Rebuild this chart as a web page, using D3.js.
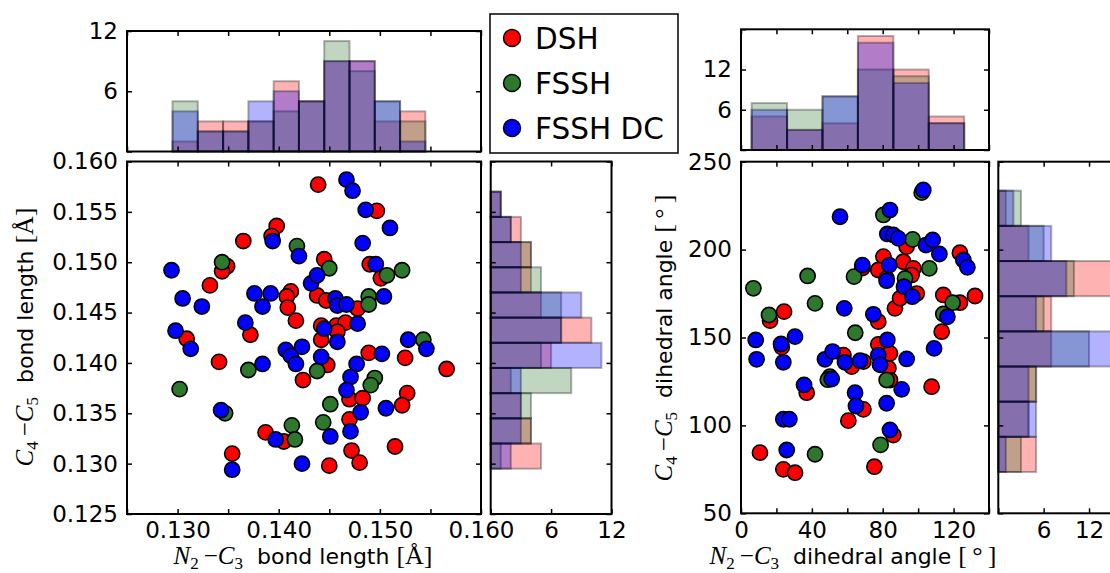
<!DOCTYPE html>
<html lang="en">
<head>
  <meta charset="UTF-8">
  <title>bond length / dihedral angle</title>
  <style>
    body { margin: 0; background: #fff; }
    text { font-family: "DejaVu Sans", sans-serif; }
  </style>
</head>
<body>
  <div id="chart"></div>
  <script src="https://d3js.org/d3.v7.min.js"></script>
  <script>
    // series
    const seriesNames = ["DSH", "FSSH", "FSSH DC"]

    // left panel: [N2-C3, C4-C5] bond length (nm)
    const bondDSH = [
      [0.1439, 0.1577], [0.1398, 0.1536], [0.1393, 0.1526], [0.1365, 0.1521], [0.1445, 0.1503],
      [0.1349, 0.1496], [0.1344, 0.1491], [0.1332, 0.1477], [0.1412, 0.1471], [0.1408, 0.1466],
      [0.1409, 0.1455], [0.1417, 0.1442], [0.1438, 0.1467], [0.1447, 0.1462], [0.1372, 0.1428],
      [0.1309, 0.1424], [0.1341, 0.1401], [0.1424, 0.1383], [0.1442, 0.1423], [0.1442, 0.1437],
      [0.1448, 0.1398], [0.1387, 0.1331], [0.1405, 0.1322], [0.1354, 0.1310], [0.1450, 0.1298],
      [0.1497, 0.1551], [0.1490, 0.1498], [0.1501, 0.1484], [0.1478, 0.1454], [0.1457, 0.1437],
      [0.1466, 0.1440], [0.1458, 0.1431], [0.1489, 0.1410], [0.1470, 0.1364], [0.1483, 0.1365],
      [0.1525, 0.1405], [0.1566, 0.1394], [0.1527, 0.1370], [0.1522, 0.1358], [0.1470, 0.1344],
      [0.1515, 0.1317], [0.1472, 0.1313], [0.1480, 0.1301]
    ]
    const bondFSSH = [
      [0.1418, 0.1516], [0.1450, 0.1494], [0.1344, 0.1500], [0.1370, 0.1393], [0.1302, 0.1374],
      [0.1438, 0.1392], [0.1347, 0.1350], [0.1413, 0.1338], [0.1416, 0.1324], [0.1507, 0.1487],
      [0.1522, 0.1492], [0.1489, 0.1466], [0.1489, 0.1458], [0.1495, 0.1385], [0.1491, 0.1378],
      [0.1543, 0.1423], [0.1451, 0.1359], [0.1444, 0.1341]
    ]
    const bondDC = [
      [0.1394, 0.1521], [0.1420, 0.1506], [0.1294, 0.1492], [0.1305, 0.1464], [0.1324, 0.1456],
      [0.1376, 0.1469], [0.1392, 0.1469], [0.1384, 0.1456], [0.1432, 0.1479], [0.1438, 0.1487],
      [0.1367, 0.1440], [0.1298, 0.1432], [0.1313, 0.1414], [0.1384, 0.1399], [0.1407, 0.1413],
      [0.1412, 0.1407], [0.1417, 0.1399], [0.1423, 0.1416], [0.1442, 0.1406], [0.1445, 0.1434],
      [0.1343, 0.1353], [0.1397, 0.1324], [0.1354, 0.1294], [0.1423, 0.1300], [0.1467, 0.1582],
      [0.1473, 0.1571], [0.1486, 0.1552], [0.1510, 0.1534], [0.1483, 0.1519], [0.1496, 0.1498],
      [0.1456, 0.1464], [0.1458, 0.1457], [0.1467, 0.1458], [0.1504, 0.1466], [0.1478, 0.1439],
      [0.1458, 0.1421], [0.1502, 0.1409], [0.1477, 0.1399], [0.1471, 0.1386], [0.1467, 0.1373],
      [0.1528, 0.1423], [0.1546, 0.1414], [0.1506, 0.1355], [0.1481, 0.1351], [0.1451, 0.1327],
      [0.1471, 0.1332]
    ]

    // right panel: [N2-C3, C4-C5] dihedral angle (deg)
    const angleDSH = [
      [10.7, 84.5], [23.9, 75.0], [30.5, 73.1], [24.3, 164.7], [16.4, 159.6], [37.1, 118.6],
      [60.6, 102.7], [69.1, 109.1], [75.3, 76.5], [77.5, 159.0], [86.0, 94.5], [107.6, 122.0],
      [113.3, 153.3], [114.2, 174.2], [123.6, 169.8], [132.1, 173.6], [123.6, 198.2], [80.4, 196.0],
      [77.5, 188.4], [86.9, 166.6], [89.8, 172.3], [91.6, 193.1], [97.3, 189.3], [96.3, 185.5],
      [93.5, 201.7], [57.8, 140.0], [62.5, 133.4], [69.1, 136.3], [77.5, 146.1], [83.2, 132.5],
      [84.1, 141.0], [84.1, 125.8], [23.0, 144.5], [68.5, 189.5], [99.2, 175.0], [82.2, 183.6]
    ]
    const angleFSSH = [
      [7.0, 178.0], [15.8, 162.8], [37.6, 185.0], [41.8, 169.4], [41.8, 83.6], [50.2, 127.7],
      [49.0, 126.0], [64.5, 152.7], [63.8, 184.6], [80.4, 219.7], [96.9, 205.8], [106.3, 189.3],
      [119.5, 169.8], [114.2, 163.4], [78.8, 88.9], [82.2, 125.8], [92.6, 183.6], [102.0, 232.4]
    ]
    const angleDC = [
      [8.3, 148.6], [8.8, 137.6], [22.6, 146.3], [23.9, 135.9], [30.5, 150.5], [23.9, 103.5],
      [27.3, 103.5], [25.8, 86.0], [35.6, 123.0], [47.4, 137.6], [51.7, 142.0], [51.2, 126.4],
      [58.7, 135.9], [67.2, 136.8], [55.9, 218.7], [58.3, 166.6], [64.4, 118.6], [64.9, 111.0],
      [74.7, 163.2], [68.5, 191.2], [82.6, 148.6], [77.5, 140.0], [78.5, 134.4], [82.2, 112.6],
      [84.1, 97.4], [90.7, 120.5], [93.5, 137.8], [84.1, 222.5], [82.6, 208.9], [86.0, 208.3],
      [88.8, 206.4], [83.7, 191.2], [82.2, 182.3], [92.0, 178.9], [96.7, 173.2], [102.9, 233.9],
      [104.4, 202.6], [108.2, 205.5], [112.0, 197.5], [116.5, 161.8], [109.0, 143.8], [125.5, 194.1],
      [127.8, 189.9]
    ]

    // histograms: bin edges and counts per series (DSH, FSSH, FSSH DC)
    const bondXBins = [0.1295, 0.1320, 0.1345, 0.1370, 0.1395, 0.1420, 0.1445, 0.1470, 0.1495, 0.1520, 0.1545]
    const bondXCounts = [
      [1, 3, 3, 3, 7, 5, 9, 9, 3, 4],
      [5, 2, 2, 3, 4, 5, 11, 8, 5, 3],
      [4, 2, 2, 5, 6, 5, 9, 9, 5, 1]
    ]
    const bondYBins = [0.1295, 0.1320, 0.1345, 0.1370, 0.1395, 0.1420, 0.1445, 0.1470, 0.1495, 0.1520, 0.1545, 0.1570]
    const bondYCounts = [
      [5, 4, 3, 2, 6, 10, 5, 4, 4, 3, 1],
      [1, 4, 4, 8, 5, 7, 7, 5, 4, 2, 1],
      [2, 3, 3, 3, 11, 7, 9, 3, 3, 2, 1]
    ]
    const angleXBins = [6, 26, 46, 66, 86, 106, 126]
    const angleXCounts = [
      [5, 3, 4, 17, 12, 5],
      [7, 6, 8, 12, 11, 4],
      [6, 3, 8, 16, 10, 4]
    ]
    const angleYBins = [73.5, 93.5, 113.5, 133.5, 153.5, 173.5, 193.5, 213.5, 233.5]
    const angleYCounts = [
      [5, 4, 5, 7, 7, 15, 4, 1],
      [3, 4, 5, 12, 6, 10, 6, 3],
      [1, 5, 4, 15, 5, 9, 7, 2]
    ]

    // tick values
    const bondTicks = [0.125, 0.130, 0.135, 0.140, 0.145, 0.150, 0.155, 0.160]
    const angleXTicks = [0, 20, 40, 60, 80, 100, 120, 140]
    const angleYTicks = [50, 100, 150, 200, 250]
    const countTicks = [0, 6, 12, 18]

    const colors = ["#ff0000", "#2e782e", "#0000ff"]

    const svg = d3.select("#chart").append("svg")
      .attr("width", 1110)
      .attr("height", 573)

    // scales
    const xBond = d3.scaleLinear().domain([0.125, 0.160]).range([127, 481])
    const yBond = d3.scaleLinear().domain([0.125, 0.160]).range([514, 161.5])
    const xAngle = d3.scaleLinear().domain([0, 140]).range([741, 989])
    const yAngle = d3.scaleLinear().domain([50, 250]).range([513.3, 161.7])

    const hTopL = d3.scaleLinear().domain([0, 12]).range([151.5, 31])
    const hSideL = d3.scaleLinear().domain([0, 12]).range([490.7, 611.5])
    const hTopR = d3.scaleLinear().domain([0, 18]).range([150, 29.3])
    const hSideR = d3.scaleLinear().domain([0, 18]).range([998.3, 1134.4])

    const none = () => ""
    const fmtBond = d => Math.round(d * 1000) % 10 === 0 ? d3.format(".3f")(d) : ""
    const fmtBondY = d => d3.format(".3f")(d)
    const fmtAngle = d => d % 40 === 0 && d < 140 ? d : ""
    const fmtCount = d => (d === 6 || d === 12) ? d : ""

    // frame + inward ticks on all four sides
    function axes(x, y, o) {
      const [x0, x1] = x.range()
      const [y0, y1] = y.range()
      const g = svg.append("g")
      g.append("g").attr("transform", `translate(0,${y0})`)
        .call(d3.axisBottom(x).tickValues(o.xt).tickFormat(o.xf || none).tickSize(-5).tickPadding(8))
      g.append("g").attr("transform", `translate(0,${y1})`)
        .call(d3.axisTop(x).tickValues(o.xt).tickFormat(none).tickSize(-5))
      g.append("g").attr("transform", `translate(${x0},0)`)
        .call(d3.axisLeft(y).tickValues(o.yt).tickFormat(o.yf || none).tickSize(-5).tickPadding(9))
      g.append("g").attr("transform", `translate(${x1},0)`)
        .call(d3.axisRight(y).tickValues(o.yt).tickFormat(none).tickSize(-5))
      g.selectAll(".domain").remove()
      g.selectAll(".tick line").attr("stroke", "#000").attr("stroke-width", 1.5)
      g.selectAll(".tick text").attr("fill", "#000")
        .style("font-family", "DejaVu Sans").style("font-size", "23px")
      svg.append("rect")
        .attr("x", x0).attr("y", y1)
        .attr("width", x1 - x0).attr("height", y0 - y1)
        .attr("fill", "none").attr("stroke", "#000").attr("stroke-width", 2)
    }

    function histTop(x, y, bins, counts) {
      counts.forEach((c, s) => {
        svg.append("g").selectAll("rect").data(c).join("rect")
          .attr("x", (d, i) => x(bins[i]))
          .attr("width", (d, i) => x(bins[i + 1]) - x(bins[i]))
          .attr("y", d => y(d))
          .attr("height", d => y(0) - y(d))
          .attr("fill", colors[s]).attr("fill-opacity", 0.3)
          .attr("stroke", "#000").attr("stroke-opacity", 0.3).attr("stroke-width", 2)
      })
    }

    function histSide(x, y, bins, counts) {
      counts.forEach((c, s) => {
        svg.append("g").selectAll("rect").data(c).join("rect")
          .attr("x", x(0))
          .attr("width", d => x(d) - x(0))
          .attr("y", (d, i) => y(bins[i + 1]))
          .attr("height", (d, i) => y(bins[i]) - y(bins[i + 1]))
          .attr("fill", colors[s]).attr("fill-opacity", 0.3)
          .attr("stroke", "#000").attr("stroke-opacity", 0.3).attr("stroke-width", 2)
      })
    }

    function scatter(x, y, sets) {
      sets.forEach((pts, s) => {
        svg.append("g").selectAll("circle").data(pts).join("circle")
          .attr("cx", d => x(d[0]))
          .attr("cy", d => y(d[1]))
          .attr("r", 7.6)
          .attr("fill", colors[s])
          .attr("stroke", "#000").attr("stroke-width", 1.6)
      })
    }

    // axis label with math-style symbols
    function mathLabel(x, y, rot, a, sa, b, sb, words, unit) {
      const t = svg.append("text")
        .attr("transform", `translate(${x},${y}) rotate(${rot})`)
        .attr("text-anchor", "middle")
        .style("font-size", "22px")
      const serif = (sel, size) => sel.style("font-family", "Liberation Serif, serif").style("font-size", size + "px")
      t.append("tspan").text(a).call(serif, 25).style("font-style", "italic")
      t.append("tspan").text(sa).attr("dy", 5).call(serif, 17)
      t.append("tspan").text("\u2009\u2212").attr("dy", -5).call(serif, 25)
      t.append("tspan").text(b).call(serif, 25).style("font-style", "italic")
      t.append("tspan").text(sb).attr("dy", 5).call(serif, 17)
      t.append("tspan").text("\u00a0\u00a0" + words + "\u00a0").attr("dy", -5)
        .style("font-family", "DejaVu Sans")
      t.append("tspan").text(unit).call(serif, 26)
    }

    // left panel
    histTop(xBond, hTopL, bondXBins, bondXCounts)
    axes(xBond, hTopL, { xt: bondTicks, yt: [0, 6, 12], yf: fmtCount })
    histSide(hSideL, yBond, bondYBins, bondYCounts)
    axes(hSideL, yBond, { xt: [0, 6, 12], xf: fmtCount, yt: bondTicks })
    scatter(xBond, yBond, [bondDSH, bondFSSH, bondDC])
    axes(xBond, yBond, { xt: bondTicks, xf: fmtBond, yt: bondTicks, yf: fmtBondY })

    // right panel
    histTop(xAngle, hTopR, angleXBins, angleXCounts)
    axes(xAngle, hTopR, { xt: angleXTicks, yt: countTicks, yf: fmtCount })
    histSide(hSideR, yAngle, angleYBins, angleYCounts)
    axes(hSideR, yAngle, { xt: countTicks, xf: fmtCount, yt: angleYTicks })
    scatter(xAngle, yAngle, [angleDSH, angleFSSH, angleDC])
    axes(xAngle, yAngle, { xt: angleXTicks, xf: fmtAngle, yt: angleYTicks, yf: d => d })

    mathLabel(303, 564, 0, "N", "2", "C", "3", "bond length", "[Å]")
    mathLabel(33, 337, -90, "C", "4", "C", "5", "bond length", "[Å]")
    mathLabel(853, 564, 0, "N", "2", "C", "3", "dihedral angle", "[\u2009°\u2009]")
    mathLabel(672, 338, -90, "C", "4", "C", "5", "dihedral angle", "[\u2009°\u2009]")

    // legend
    const legend = svg.append("g")
    legend.append("rect")
      .attr("x", 490).attr("y", 14).attr("width", 188).attr("height", 139)
      .attr("fill", "#fff").attr("stroke", "#000").attr("stroke-width", 1.5)
    const rows = legend.selectAll("g.row").data(seriesNames).join("g")
      .attr("class", "row")
      .attr("transform", (d, i) => `translate(512,${38 + i * 45})`)
    rows.append("circle").attr("r", 8.5)
      .attr("fill", (d, i) => colors[i]).attr("stroke", "#000").attr("stroke-width", 1.5)
    rows.append("text").attr("x", 23).attr("y", 11.3)
      .style("font-size", "29.5px").text(d => d)
  </script>
</body>
</html>
